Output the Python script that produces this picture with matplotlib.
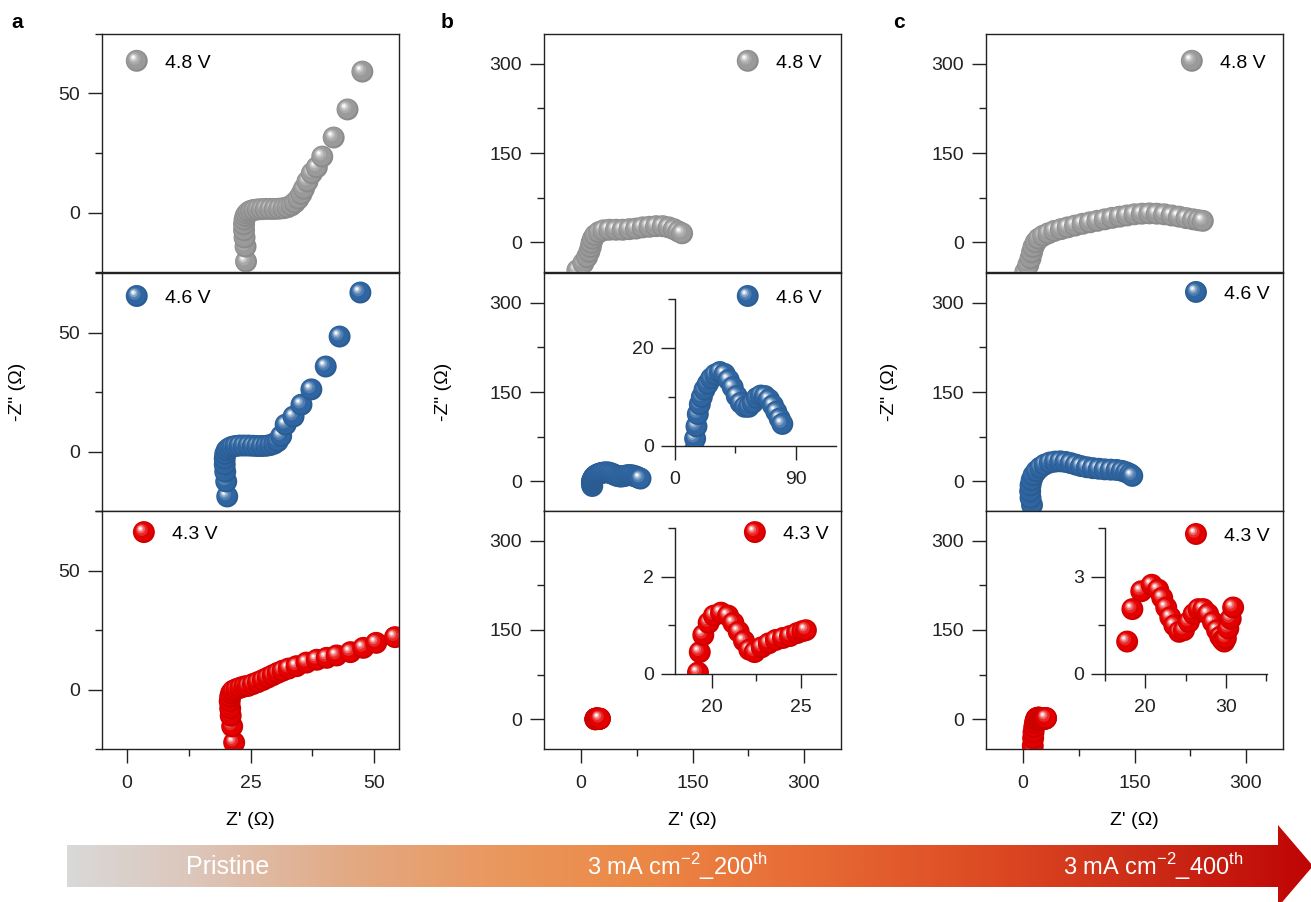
import numpy as np
import matplotlib
matplotlib.use('Agg')
import matplotlib.pyplot as plt
from matplotlib.path import Path
from matplotlib.collections import PathCollection
from matplotlib.patches import Polygon, Circle
from matplotlib.ticker import MultipleLocator
from matplotlib.colors import to_rgb, LinearSegmentedColormap
from matplotlib.legend_handler import HandlerBase
from matplotlib.lines import Line2D
import matplotlib.transforms as mtransforms

plt.rcParams['font.family'] = ['Liberation Sans', 'DejaVu Sans']
plt.rcParams['font.size'] = 14
plt.rcParams['mathtext.fontset'] = 'custom'
plt.rcParams['mathtext.rm'] = 'Liberation Sans'

# ---------------- data ----------------
voltages = ['4.8 V', '4.6 V', '4.3 V']
series_colors = ['#9a9a9a', '#2f66a2', '#e40000']
stage_labels = ['Pristine', '3 mA cm$^{\\mathrm{-2}}$_200$^{\\mathrm{th}}$',
                '3 mA cm$^{\\mathrm{-2}}$_400$^{\\mathrm{th}}$']

# (a) pristine
a48_x = [24.1, 24.0, 23.8, 23.7, 23.7, 23.8, 24.0, 24.3, 24.7, 25.2, 25.8, 26.5, 27.3, 28.1, 29.0,
         29.9, 30.8, 31.7, 32.5, 33.3, 34.0, 34.7, 35.3, 35.8, 36.5, 37.4, 38.4, 39.5, 41.8, 44.6, 47.6]
a48_y = [-20.6, -14.3, -10.5, -7.5, -5.0, -3.0, -1.5, -0.5, 0.3, 0.8, 1.1, 1.3, 1.4, 1.5, 1.5,
         1.5, 1.6, 1.8, 2.2, 3.0, 4.2, 5.8, 7.8, 10.0, 13.0, 16.5, 19.0, 23.5, 31.5, 43.3, 59.2]
a46_x = [20.3, 20.1, 19.9, 19.8, 19.8, 19.9, 20.2, 20.7, 21.3, 22.0, 22.8, 23.7, 24.6, 25.5, 26.4,
         27.3, 28.2, 29.0, 29.8, 30.5, 31.2, 32.1, 33.7, 35.3, 37.3, 40.2, 43.0, 47.2]
a46_y = [-18.9, -12.6, -8.5, -5.5, -3.0, -1.0, 0.5, 1.4, 2.0, 2.3, 2.5, 2.5, 2.5, 2.4, 2.3,
         2.3, 2.4, 2.7, 3.3, 4.3, 6.5, 11.3, 14.7, 19.7, 26.1, 35.7, 48.3, 66.8]
a43_x = [21.7, 21.3, 21.0, 20.9, 20.8, 20.9, 21.1, 21.5, 22.2, 23.0, 23.8, 24.5, 25.5, 26.5, 27.5,
         28.5, 29.5, 30.5, 31.5, 32.7, 34.3, 36.3, 38.4, 40.4, 42.4, 45.2, 47.8, 50.4, 54.2]
a43_y = [-22.3, -15.5, -11.0, -8.0, -5.0, -3.0, -1.5, -0.5, 0.2, 0.8, 1.3, 1.5, 2.3, 3.1, 4.0,
         5.0, 6.0, 7.0, 7.9, 8.8, 9.8, 11.3, 12.5, 13.3, 14.3, 15.7, 17.5, 19.6, 22.0]

# (b) 200th cycle
b48_x = [-5, 3, 8, 11, 13, 14, 16, 19, 24, 30, 38, 47, 56, 65, 74, 83, 92, 101, 110, 118,
         125, 131, 136]
b48_y = [-47, -35, -25, -16, -8, -1, 6, 12, 17, 20, 21, 21, 21, 22, 23, 25, 26, 27, 27, 25,
         22, 18, 15]
b46_x = [15, 14.5, 14.5, 15, 16, 17, 18.5, 20, 22, 24.5, 27, 30, 33.5, 37, 40, 43, 46, 49, 52,
         55, 58, 61, 64, 67, 70, 73, 75.5, 78, 80]
b46_y = [-8, -4, -1, 1.5, 4, 6.5, 8.5, 10, 11.5, 12.7, 13.8, 14.6, 15.1, 14.7, 13.5, 12, 10.2,
         8.8, 8, 8, 8.8, 9.8, 10.3, 10.2, 9.5, 8.3, 7, 5.6, 4.5]
b43_x = [19.2, 19.2, 19.3, 19.5, 19.8, 20.1, 20.5, 20.9, 21.2, 21.5, 21.8, 22.1, 22.4, 22.8,
         23.2, 23.6, 24.0, 24.4, 24.8, 25.1, 25.3]
b43_y = [-0.2, 0.03, 0.45, 0.8, 1.05, 1.2, 1.26, 1.2, 1.05, 0.87, 0.68, 0.5, 0.45, 0.55,
         0.63, 0.7, 0.74, 0.78, 0.84, 0.88, 0.9]

# (c) 400th cycle
c48_x = [3, 7, 10, 12, 14, 17, 21, 27, 34, 42, 51, 60, 70, 80, 90, 100, 110, 120, 130, 140,
         150, 160, 170, 180, 190, 200, 210, 220, 229, 236, 242]
c48_y = [-50, -38, -27, -17, -8, 0, 6, 11, 15, 19, 22, 25, 28, 31, 33.5, 36, 38.5, 41, 43, 45,
         47, 48, 48.5, 48, 47, 45, 43, 40.5, 38.5, 37, 36]
c46_x = [12, 10, 9.5, 10, 11.5, 14, 18, 23, 29, 36, 43, 50, 57, 64, 71, 78, 86, 94, 102, 110,
         118, 126, 133, 139, 144, 147]
c46_y = [-40, -28, -17, -7, 2, 10, 17, 23, 28, 31.5, 33, 33.5, 32.5, 30.5, 28, 25.5, 23.5, 22,
         21, 20, 19.5, 19, 17.5, 15, 12, 9]
c43_x = [13, 13.5, 14, 15, 16, 17, 17.75, 18.4, 19.5, 20.8, 21.6, 22.1, 22.6, 23.1, 23.6, 24.2,
         24.8, 25.4, 26.0, 26.6, 27.2, 27.8, 28.4, 28.9, 29.3, 29.6, 29.8, 30.0, 30.3, 30.6, 30.9]
c43_y = [-45, -32, -22, -13, -6, -1.5, 1.0, 2.0, 2.55, 2.75, 2.6, 2.35, 2.05, 1.75, 1.5, 1.3,
         1.35, 1.6, 1.85, 2.0, 2.0, 1.85, 1.6, 1.35, 1.15, 1.05, 1.0, 1.1, 1.4, 1.7, 2.05]

panels = [
    [(a48_x, a48_y), (a46_x, a46_y), (a43_x, a43_y)],
    [(b48_x, b48_y), (b46_x, b46_y), (b43_x, b43_y)],
    [(c48_x, c48_y), (c46_x, c46_y), (c43_x, c43_y)],
]
col_xlim = [(-5, 55), (-50, 350), (-50, 350)]
col_ylim = [(-25, 75), (-50, 350), (-50, 350)]
col_major = [(25, 50), (150, 150), (150, 150)]  # (x major, y major)

# ---------------- style helpers ----------------
W, H = 1311, 902
fig = plt.figure(figsize=(W / 100, H / 100), dpi=100)

LAYERS = [  # radius frac, mix (neg = darker, pos = toward white), dx, dy
    (1.00, -0.10, 0.00, 0.00),
    (0.88, 0.00, -0.06, 0.06),
    (0.55, 0.16, -0.20, 0.20),
    (0.38, 0.40, -0.27, 0.27),
    (0.24, 0.70, -0.31, 0.31),
    (0.12, 0.97, -0.33, 0.33),
]
R_PT = 7.9
FS = 14


def mix(color, m):
    base = np.array(to_rgb(color))
    if m < 0:
        return tuple(base * (1 + m))
    return tuple(base + (1 - base) * m)


def spheres(ax, xs, ys, color, r=R_PT, zorder=3):
    paths, cols, offs = [], [], []
    for x, y in zip(xs, ys):
        for rf, m, dx, dy in LAYERS:
            paths.append(Path.circle((dx * r, dy * r), rf * r))
            cols.append(mix(color, m))
            offs.append((x, y))
    coll = PathCollection(paths, offsets=offs, offset_transform=ax.transData,
                          transform=mtransforms.Affine2D().scale(fig.dpi / 72.0),
                          facecolors=cols, edgecolors='none', zorder=zorder)
    ax.add_collection(coll, autolim=False)


class SphereHandler(HandlerBase):
    def __init__(self, color):
        super().__init__()
        self.color = color

    def create_artists(self, legend, orig_handle, xdescent, ydescent, width, height,
                       fontsize, trans):
        cx = width / 2 - xdescent
        cy = height / 2 - ydescent
        arts = []
        for rf, m, dx, dy in LAYERS:
            arts.append(Circle((cx + dx * R_PT, cy + dy * R_PT), rf * R_PT,
                               facecolor=mix(self.color, m), edgecolor='none',
                               transform=trans))
        return arts


def style_axis(ax, xmaj, ymaj, show_x):
    for s in ax.spines.values():
        s.set_linewidth(1.0)
        s.set_color('#222222')
    ax.xaxis.set_major_locator(MultipleLocator(xmaj))
    ax.xaxis.set_minor_locator(MultipleLocator(xmaj / 2))
    ax.yaxis.set_major_locator(MultipleLocator(ymaj))
    ax.yaxis.set_minor_locator(MultipleLocator(ymaj / 2))
    ax.tick_params(axis='y', which='major', direction='out', length=10, width=1.0,
                   pad=6, labelsize=FS, colors='#222222')
    ax.tick_params(axis='y', which='minor', direction='out', length=5, width=1.0,
                   colors='#222222')
    ax.tick_params(axis='x', which='major', direction='out', length=10, width=1.0,
                   pad=9, labelsize=FS, colors='#222222')
    ax.tick_params(axis='x', which='minor', direction='out', length=5, width=1.0,
                   colors='#222222')
    if not show_x:
        ax.tick_params(axis='x', which='both', bottom=False, labelbottom=False)


# ---------------- layout ----------------
col_left = [102, 544, 986]
col_w = 297
row_top = [34, 273, 511]
row_h = 238
legend_anchor = [
    [(0.081, 0.879), (0.081, 0.895), (0.105, 0.903)],
    [(0.650, 0.879), (0.650, 0.895), (0.674, 0.903)],
    [(0.657, 0.879), (0.671, 0.912), (0.671, 0.895)],
]
ylabel_x = [-0.255, -0.31, -0.295]

for ci in range(3):
    for ri in range(3):
        l = col_left[ci] / W
        b = 1 - (row_top[ri] + row_h) / H
        ax = fig.add_axes([l, b, col_w / W, row_h / H])
        ax.set_xlim(*col_xlim[ci])
        ax.set_ylim(*col_ylim[ci])
        style_axis(ax, col_major[ci][0], col_major[ci][1], ri == 2)
        xs, ys = panels[ci][ri]
        spheres(ax, xs, ys, series_colors[ri])
        h = Line2D([], [], label=voltages[ri])
        ax.legend(handles=[h], labels=[voltages[ri]], loc='center left',
                  bbox_to_anchor=legend_anchor[ci][ri], frameon=False, borderpad=0,
                  borderaxespad=0, handlelength=1.1, handletextpad=0.9, fontsize=FS,
                  handler_map={h: SphereHandler(series_colors[ri])})
        if ri == 1:
            ax.set_ylabel('-Z" (\u03a9)', fontsize=FS)
            ax.yaxis.set_label_coords(ylabel_x[ci], 0.5)
        if ri == 2:
            ax.set_xlabel("Z' (\u03a9)", fontsize=FS)
            ax.xaxis.set_label_coords(0.5, -0.265)

# ---------------- insets ----------------
insets = [
    # (col,row), (left, top, right, bottom px), xlim, ylim, xmajor, xminor, ymajor, yminor
    ((1, 1), (675, 299, 836, 446), (0, 120), (0, 30), 90, 45, 20, 10),
    ((1, 2), (675, 528, 836, 674), (17.9, 27), (0, 3), 5, 2.5, 2, 1),
    ((2, 2), (1105, 528, 1267, 674), (15, 35.1), (0, 4.5), 10, 5, 3, 1.5),
]
for (ci, ri), (pl, pt, pr, pb), xl, yl, xM, xm, yM, ym in insets:
    axi = fig.add_axes([pl / W, 1 - pb / H, (pr - pl) / W, (pb - pt) / H])
    axi.patch.set_alpha(0)
    axi.set_xlim(*xl)
    axi.set_ylim(*yl)
    axi.spines['top'].set_visible(False)
    axi.spines['right'].set_visible(False)
    for s in ('left', 'bottom'):
        axi.spines[s].set_linewidth(1.0)
        axi.spines[s].set_color('#222222')
    axi.xaxis.set_major_locator(MultipleLocator(xM))
    axi.xaxis.set_minor_locator(MultipleLocator(xm))
    axi.yaxis.set_major_locator(MultipleLocator(yM))
    axi.yaxis.set_minor_locator(MultipleLocator(ym))
    axi.tick_params(which='major', direction='out', length=10, width=1.0, labelsize=FS,
                    colors='#222222')
    axi.tick_params(which='minor', direction='out', length=5, width=1.0, colors='#222222')
    axi.tick_params(axis='x', which='major', pad=8)
    axi.tick_params(axis='y', which='major', pad=5)
    xs, ys = panels[ci][ri]
    spheres(axi, xs, ys, series_colors[ri], zorder=3)

# ---------------- panel letters ----------------
for lab, (px, py) in zip(['a', 'b', 'c'], [(17, 22), (447, 22), (899, 22)]):
    fig.text(px / W, 1 - py / H, lab, fontsize=15, fontweight='bold', ha='center',
             va='center')

# ---------------- gradient arrow ----------------
axa = fig.add_axes([0, 0, 1, 1], zorder=-5)
axa.set_xlim(0, W)
axa.set_ylim(H, 0)
axa.axis('off')
grad_cmap = LinearSegmentedColormap.from_list('arr', [
    (0.00, '#d9d9d9'), (0.10, '#dcc6ba'), (0.22, '#e2ab86'), (0.33, '#e99a62'),
    (0.45, '#ec8a48'), (0.60, '#e76a34'), (0.75, '#dc4822'), (0.88, '#cb2916'),
    (1.00, '#bf0505')])
grad = np.linspace(0, 1, 512).reshape(1, -1)
img = axa.imshow(grad, cmap=grad_cmap, extent=[67, 1311, 905, 825], aspect='auto',
                 interpolation='bilinear')
arrow = Polygon([(67, 845), (1278, 845), (1278, 825), (1313, 866), (1278, 907),
                 (1278, 887), (67, 887)], closed=True, transform=axa.transData,
                facecolor='none', edgecolor='none')
axa.add_patch(arrow)
img.set_clip_path(arrow)
for txt, (px, fs) in zip(stage_labels, [(228, 18), (677, 17), (1153, 17)]):
    axa.text(px, 867, txt, color='white', fontsize=fs, ha='center', va='center')

fig.savefig('out.png', dpi=100)
